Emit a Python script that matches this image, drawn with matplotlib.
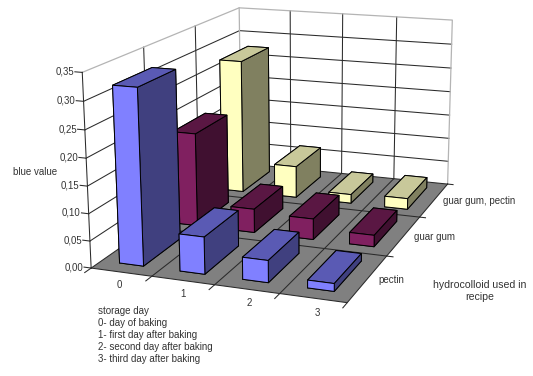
import numpy as np
import matplotlib
matplotlib.use('Agg')
import matplotlib.pyplot as plt
from mpl_toolkits.mplot3d import proj3d
from mpl_toolkits.mplot3d.art3d import Poly3DCollection

plt.rcParams['font.family'] = ['Liberation Sans', 'DejaVu Sans']
plt.rcParams['font.size'] = 7.0

# Data
days = ['0', '1', '2', '3']
recipes = ['pectin', 'guar gum', 'guar gum, pectin']
pectin = [0.322, 0.068, 0.04, 0.014]
guar_gum = [0.182, 0.046, 0.04, 0.022]
guar_gum_pectin = [0.275, 0.065, 0.018, 0.022]
zticks = [0.00, 0.05, 0.10, 0.15, 0.20, 0.25, 0.30, 0.35]

series = [pectin, guar_gum, guar_gum_pectin]
# front, top, side
colours = [('#8080ff', '#5a5ab4', '#40407f'),
           ('#802060', '#5a1743', '#401030'),
           ('#ffffc0', '#c8c89a', '#808060')]
txt = '#333333'

W, H = 533, 376
s = 2517.5  # view scale, fitted against the plot box corners
cx, cy = 285.6, 134.55
size = 0.185*s
left = cx - 0.095*s
bottom = H - (cy + 0.095*s)

fig = plt.figure(figsize=(W/100, H/100), dpi=100)
ax = fig.add_axes([left/W, bottom/H, size/W, size/H], projection='3d', computed_zorder=False)
ax.set_xlim(0, 4, view_margin=0)
ax.set_ylim(0, 3, view_margin=0)
ax.set_zlim(0, 0.35, view_margin=0)
ax.view_init(elev=14.965, azim=-69.619, roll=0.258)
ax.set_proj_type('persp', focal_length=0.5204)
ax.set_box_aspect((1.3425, 1.987, 1))
ax.set_axis_off()

nx, ny, zmax = len(days), len(recipes), zticks[-1]


def label(x, y, z, t, **kw):
    # tick labels sit at the projected point as plain 2D text
    xp, yp, _ = proj3d.proj_transform(x, y, z, ax.get_proj())
    ax.text2D(xp, yp, t, transform=ax.transData, color=txt, zorder=3, **kw)


# walls and floor
floor = [[(0, 0, 0), (nx, 0, 0), (nx, ny, 0), (0, ny, 0)]]
ax.add_collection3d(Poly3DCollection(floor, facecolor='#808080', edgecolor='none', zorder=1))

line = dict(color='#2a2a2a', lw=0.75, zorder=2)
edge = dict(color='#b4b4b4', lw=0.9, zorder=2)
for z in zticks[1:-1]:
    ax.plot([0, 0, nx], [0, ny, ny], [z, z, z], **line)
for i in range(1, nx):
    ax.plot([i, i], [ny, ny], [0, zmax], **line)
    ax.plot([i, i], [0, ny], [0, 0], **line)
for j in range(1, ny):
    ax.plot([0, 0], [j, j], [0, zmax], **line)
    ax.plot([0, nx], [j, j], [0, 0], **line)
ax.plot([0, 0, nx, nx], [0, ny, ny, ny], [zmax, zmax, zmax, 0], **edge)
ax.plot([0, 0], [ny, ny], [0, zmax], **edge)
ax.plot([0, nx], [ny, ny], [0, 0], **line)
ax.plot([0, 0], [0, ny], [0, 0], **line)
ax.plot([0, 0], [0, 0], [0, zmax], **line)
ax.plot([0, nx, nx], [0, 0, ny], [0, 0, 0], **line)

# tick marks and labels
for z in zticks:
    ax.plot([-0.12, 0], [0, 0], [z, z], **line)
    label(-0.13, 0, z, f'{z:.2f}'.replace('.', ','), ha='right', va='center', fontsize=6.9)
for i in range(nx+1):
    ax.plot([i, i], [0, -0.1], [0, 0], **line)
for i, d in enumerate(days):
    label(i+0.72, -0.24, 0, d, ha='center', va='center')
for j in range(1, ny+1):
    ax.plot([nx, nx+0.1], [j, j], [0, 0], **line)
for j, r in enumerate(recipes):
    label(nx+0.16, j+0.5, 0, r, ha='left', va='center')

# bars, back row first
bw, bd = 0.4, 0.66
order = 4
for j in range(ny-1, -1, -1):
    front, top, side = colours[j]
    for i in range(nx):
        ax.bar3d(i+0.5-bw/2, j+0.5-bd/2, 0, bw, bd, series[j][i],
                 color=[front, top, front, side, side, side], shade=False,
                 edgecolor='k', linewidth=0.7, zorder=order)
        order += 1

fig.text(13/W, 1-172/H, 'blue value', ha='left', va='center', color=txt)
note = ['storage day', '0- day of baking', '1- first day after baking',
        '2- second day after baking', '3- third day after baking']
for k, t in enumerate(note):
    fig.text(98/W, 1-(311.5+12*k)/H, t, ha='left', va='center', color=txt)
fig.text(480/W, 1-291/H, 'hydrocolloid used in\nrecipe', ha='center', va='center',
         color=txt, fontsize=7.6, linespacing=1.25)

fig.savefig('out.png', dpi=100)
